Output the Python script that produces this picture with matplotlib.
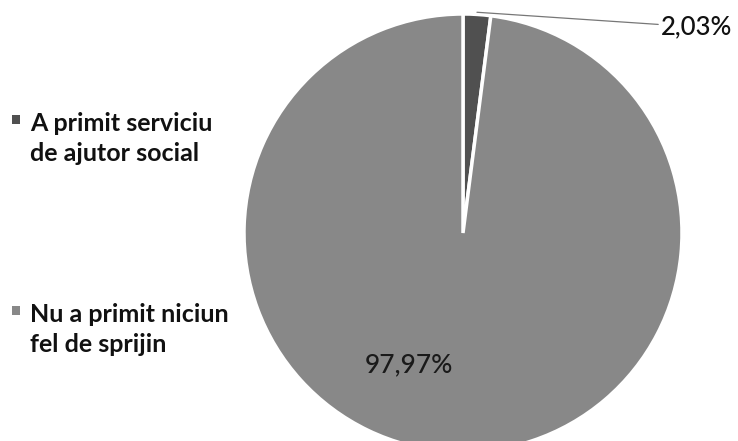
import matplotlib
matplotlib.use("Agg")
import matplotlib.pyplot as plt
from matplotlib.patches import Rectangle
import numpy as np

categories = ["A primit serviciu\nde ajutor social", "Nu a primit niciun\nfel de sprijin"]
values = [2.03, 97.97]
value_labels = ["2,03%", "97,97%"]
colors = ["#505050", "#888888"]

W, H = 738, 441
fig = plt.figure(figsize=(W / 100, H / 100), dpi=100)
ax = fig.add_axes([0, 0, 1, 1])

# pie geometry in pixels
cx, cy, R = 463, 233, 219

wedges, _ = ax.pie(values, colors=colors, startangle=90, counterclock=False,
                   radius=1.0, wedgeprops=dict(edgecolor="white", linewidth=2.5),
                   labels=None)
ax.set_xlim(-cx / R, (W - cx) / R)
ax.set_ylim(-(H - cy) / R, cy / R)
ax.set_aspect("auto")
ax.axis("off")

def px2d(x, y):
    return ((x - cx) / R, (cy - y) / R)

# small-slice label with leader line
w0 = wedges[0]
ang = np.deg2rad((w0.theta1 + w0.theta2) / 2)
sx, sy = np.cos(ang) * 1.0, np.sin(ang) * 1.0
ax.annotate(value_labels[0], xy=(sx, sy + 0.01), xytext=px2d(661, 27),
            fontsize=18.5, family="Lato", fontweight="medium", color="#111111",
            ha="left", va="center",
            arrowprops=dict(arrowstyle="-", color="#777777", lw=0.9,
                            shrinkA=0, shrinkB=0))

# big-slice label
ax.text(*px2d(409, 365), value_labels[1], fontsize=19, family="Lato",
        fontweight="medium", color="#1a1a1a", ha="center", va="center")

# legend (one text per line, first-line baselines in pixels)
leg_base = [131, 322]
line_h = 30
for lab, col, yb in zip(categories, colors, leg_base):
    for k, line in enumerate(lab.split("\n")):
        fig.text(30 / W, 1 - (yb + k * line_h) / H, line, fontsize=18,
                 family="Lato", fontweight="bold", color="#111111",
                 ha="left", va="baseline")
    fig.patches.append(Rectangle((12 / W, 1 - (yb - 7) / H), 8 / W, 9 / H,
                                 transform=fig.transFigure, facecolor=col,
                                 edgecolor="none"))

fig.savefig("out.png", dpi=100)
